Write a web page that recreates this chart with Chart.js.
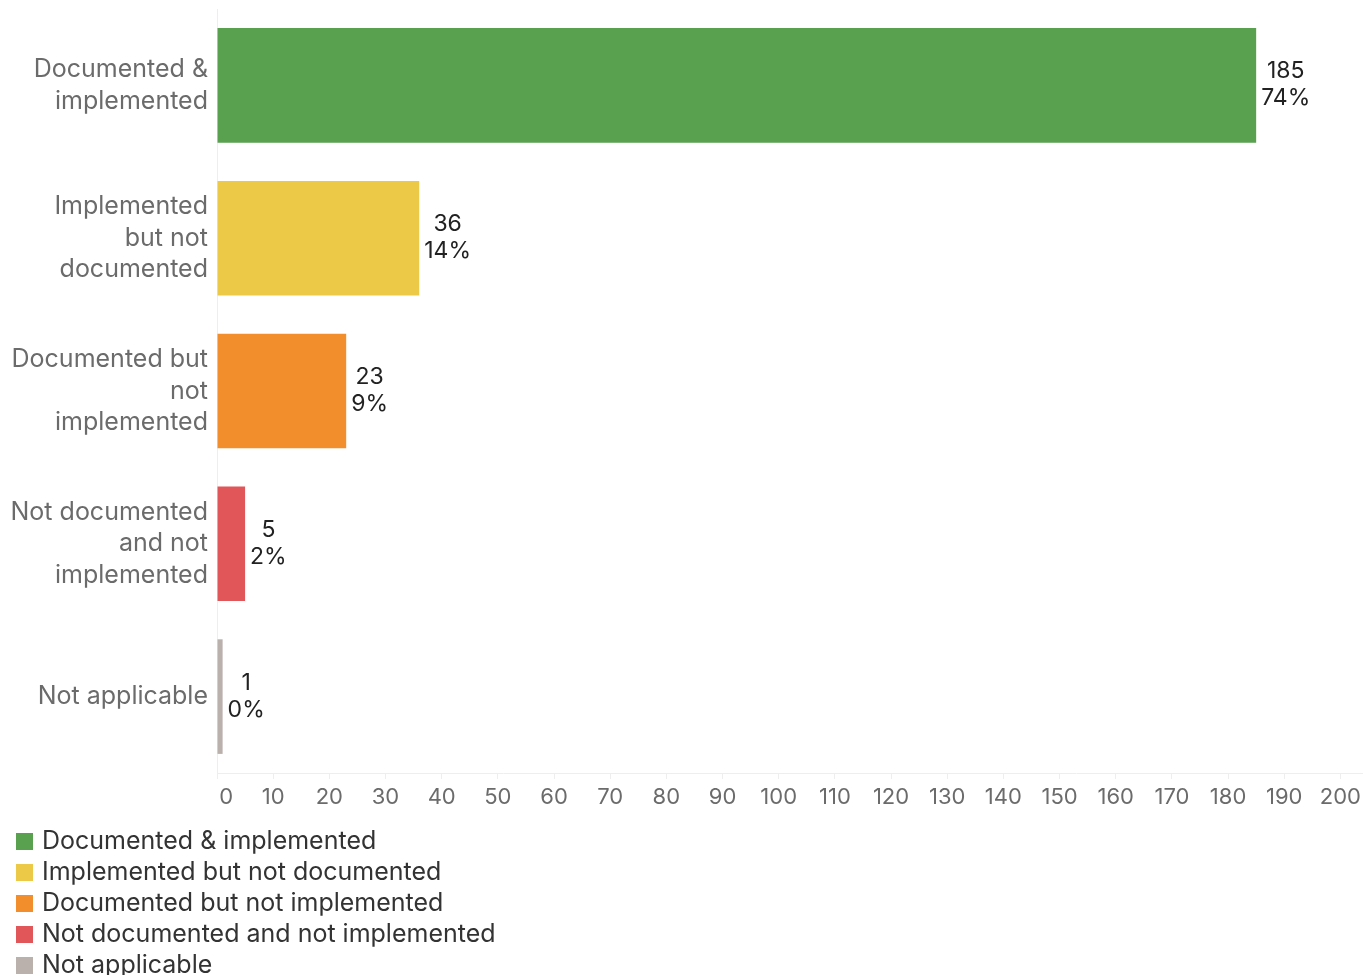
<!DOCTYPE html>
<html>
<head>
  <title>Documentation status</title>
  <script src="https://cdn.jsdelivr.net/npm/chart.js"></script>
  <style>
    body { margin: 0; background: #fff; }
  </style>
</head>
<body>
  <canvas id="chart" width="1366" height="975"></canvas>
  <script>
    const categories = [
      ['Documented &', 'implemented'],
      ['Implemented', 'but not', 'documented'],
      ['Documented but', 'not', 'implemented'],
      ['Not documented', 'and not', 'implemented'],
      ['Not applicable']
    ];
    const legendNames = [
      'Documented & implemented',
      'Implemented but not documented',
      'Documented but not implemented',
      'Not documented and not implemented',
      'Not applicable'
    ];
    const counts = [185, 36, 23, 5, 1];
    const colors = ['#59a14f', '#edc948', '#f28e2b', '#e15759', '#bab0ac'];
    const xTicks = [0, 10, 20, 30, 40, 50, 60, 70, 80, 90, 100, 110, 120, 130, 140, 150, 160, 170, 180, 190, 200];

    const FONT = 'Inter, "Noto Sans", sans-serif';
    const total = counts.reduce((a, b) => a + b, 0);

    // value + percent next to each bar
    const barLabels = {
      id: 'barLabels',
      afterDatasetsDraw(chart) {
        const ctx = chart.ctx;
        const meta = chart.getDatasetMeta(0);
        ctx.save();
        ctx.font = '23px ' + FONT;
        ctx.fillStyle = '#222';
        ctx.textBaseline = 'middle';
        ctx.textAlign = 'center';
        meta.data.forEach((bar, i) => {
          const v = counts[i];
          const lines = [String(v), Math.round(v / total * 100) + '%'];
          const w = Math.max(...lines.map(l => ctx.measureText(l).width));
          const cx = bar.x + 5 + w / 2;
          ctx.fillText(lines[0], cx, bar.y - 14);
          ctx.fillText(lines[1], cx, bar.y + 13);
        });
        ctx.restore();
      }
    };

    // one legend entry per row, under the axis
    const stackedLegend = {
      id: 'stackedLegend',
      afterDraw(chart) {
        const ctx = chart.ctx;
        const top = chart.chartArea.bottom + 68;
        ctx.save();
        ctx.font = '25px ' + FONT;
        ctx.textBaseline = 'middle';
        ctx.textAlign = 'left';
        legendNames.forEach((name, i) => {
          const y = top + i * 31;
          ctx.fillStyle = colors[i];
          ctx.fillRect(16, y - 8, 17, 17);
          ctx.fillStyle = '#333';
          ctx.fillText(name, 42, y);
        });
        ctx.restore();
      }
    };

    new Chart(document.getElementById('chart'), {
      type: 'bar',
      data: {
        labels: categories,
        datasets: [{
          data: counts,
          backgroundColor: colors,
          barPercentage: 0.75,
          categoryPercentage: 1
        }]
      },
      options: {
        indexAxis: 'y',
        responsive: false,
        animation: false,
        layout: { padding: { top: 9, right: 0, bottom: 0, left: 0 } },
        plugins: {
          legend: { display: false },
          tooltip: { enabled: false }
        },
        scales: {
          x: {
            min: 0,
            max: 204,
            afterBuildTicks(axis) {
              axis.ticks = xTicks.map(v => ({ value: v }));
            },
            afterFit(scale) { scale.height = 202; },
            grid: { drawOnChartArea: false, drawTicks: true, tickLength: 6, color: '#eeeeee' },
            border: { color: '#eeeeee' },
            ticks: {
              color: '#6b6b6b',
              font: { family: FONT, size: 22 },
              padding: 5,
              maxRotation: 0,
              autoSkip: false,
              callback: v => (v === 0 ? '   0' : v)
            }
          },
          y: {
            afterFit(scale) {
              scale.width = 217;
              scale.paddingTop = 0;
              scale.paddingBottom = 0;
            },
            grid: { display: false, tickLength: 0 },
            border: { color: '#eeeeee' },
            ticks: {
              color: '#6b6b6b',
              font: { family: FONT, size: 25, lineHeight: 1.25 },
              padding: 9
            }
          }
        }
      },
      plugins: [barLabels, stackedLegend]
    });
  </script>
</body>
</html>
